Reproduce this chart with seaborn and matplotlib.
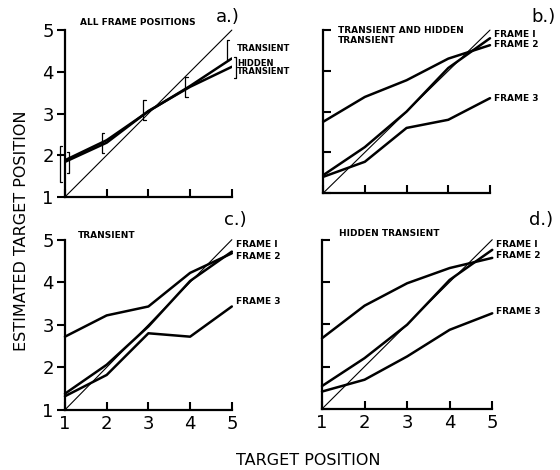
"""
Estimated vs. actual target position, four panels (a-d).
"""
import numpy as np
import pandas as pd
import matplotlib
matplotlib.use("Agg")
import matplotlib.pyplot as plt
import seaborn as sns

positions = [1, 2, 3, 4, 5]
tick_labels = ["1", "2", "3", "4", "5"]

# panel a: all frame positions
a_transient = [1.88, 2.36, 3.05, 3.66, 4.32]
a_hidden = [1.84, 2.30, 3.06, 3.64, 4.12]
a_transient_lo = [1.36, 2.05, 2.84, 3.40, 4.28]
a_transient_hi = [2.22, 2.53, 3.32, 3.87, 4.76]
a_hidden_lo = [1.57, np.nan, np.nan, np.nan, 3.85]
a_hidden_hi = [2.08, np.nan, np.nan, np.nan, 4.35]

# panel b: transient and hidden transient
b_frame1 = [1.44, 2.13, 3.00, 4.07, 4.80]
b_frame2 = [2.75, 3.36, 3.77, 4.30, 4.63]
b_frame3 = [1.40, 1.77, 2.60, 2.80, 3.33]

# panel c: transient
c_frame1 = [1.38, 2.06, 2.96, 4.03, 4.72]
c_frame2 = [2.72, 3.22, 3.43, 4.22, 4.68]
c_frame3 = [1.32, 1.82, 2.80, 2.72, 3.43]

# panel d: hidden transient
d_frame1 = [1.54, 2.20, 2.99, 4.05, 4.76]
d_frame2 = [2.67, 3.44, 3.97, 4.33, 4.57]
d_frame3 = [1.41, 1.69, 2.24, 2.87, 3.26]

frame_names = ["FRAME 1", "FRAME 2", "FRAME 3"]

sns.set_style("ticks")
plt.rcParams["font.family"] = ["DejaVu Sans"]
plt.rcParams["text.color"] = "black"

fig = plt.figure(figsize=(5.6, 4.7), dpi=100)

ax_a = fig.add_axes([0.116, 0.581, 0.298, 0.355])
ax_b = fig.add_axes([0.577, 0.589, 0.298, 0.347])
ax_c = fig.add_axes([0.116, 0.128, 0.298, 0.362])
ax_d = fig.add_axes([0.575, 0.130, 0.304, 0.360])


def style_axes(ax, left_labels, bottom_labels):
    ax.set_xlim(1, 5)
    ax.set_ylim(1, 5)
    sns.despine(ax=ax)
    for side in ["left", "bottom"]:
        ax.spines[side].set_linewidth(1.6)
        ax.spines[side].set_color("black")
    ax.set_xticks(positions)
    ax.set_yticks(positions)
    ax.tick_params(axis="x", direction="in", length=6, width=1.5, pad=4,
                   labelsize=13, colors="black")
    ax.tick_params(axis="y", direction="out" if left_labels else "in",
                   length=6, width=1.5, pad=2, labelsize=13, colors="black")
    ax.set_xticklabels(tick_labels if bottom_labels else [])
    ax.set_yticklabels(tick_labels if left_labels else [])
    ax.set_xlabel("")
    ax.set_ylabel("")
    # identity line
    ax.plot(positions, positions, color="black", lw=0.8, clip_on=False)


def draw_frames(ax, f1, f2, f3, label_ys):
    df = pd.DataFrame({
        "target": positions * 3,
        "estimate": f1 + f2 + f3,
        "frame": [n for n in frame_names for _ in positions],
    })
    sns.lineplot(data=df, x="target", y="estimate", hue="frame",
                 palette=["black"] * 3, linewidth=1.8, legend=False,
                 ax=ax, clip_on=False)
    for name, yv in zip(frame_names, label_ys):
        ax.text(5.1, yv, name.replace("1", "I"), fontsize=6.5,
                fontweight="bold", va="center", ha="left")


def bracket(ax, x, lo, hi, dx, cap):
    for xi, l, h in zip(x, lo, hi):
        if np.isnan(l):
            continue
        xs = xi + dx
        ax.plot([xs + cap, xs, xs, xs + cap], [h, h, l, l],
                color="black", lw=0.9, clip_on=False)


# panel a
df_a = pd.DataFrame({
    "target": positions * 2,
    "estimate": a_transient + a_hidden,
    "cond": ["TRANSIENT"] * 5 + ["HIDDEN TRANSIENT"] * 5,
})
sns.lineplot(data=df_a, x="target", y="estimate", hue="cond",
             palette=["black", "black"], linewidth=1.8, legend=False, ax=ax_a)
bracket(ax_a, positions, a_transient_lo, a_transient_hi, -0.12, 0.06)
bracket(ax_a, positions, a_hidden_lo, a_hidden_hi, 0.1, -0.05)
ax_a.text(5.12, 4.55, "TRANSIENT", fontsize=6, fontweight="bold", va="center")
ax_a.text(5.12, 4.1, "HIDDEN\nTRANSIENT", fontsize=6, fontweight="bold",
          va="center", linespacing=0.9)

draw_frames(ax_b, b_frame1, b_frame2, b_frame3, [4.9, 4.65, 3.33])
draw_frames(ax_c, c_frame1, c_frame2, c_frame3, [4.88, 4.6, 3.55])
draw_frames(ax_d, d_frame1, d_frame2, d_frame3, [4.88, 4.62, 3.3])

style_axes(ax_a, True, False)
style_axes(ax_b, False, False)
style_axes(ax_c, True, True)
style_axes(ax_d, False, True)

# panel titles
ax_a.text(1.35, 5.08, "ALL FRAME POSITIONS", fontsize=6.5, fontweight="bold",
          va="bottom")
ax_b.text(1.35, 5.1, "TRANSIENT AND HIDDEN\nTRANSIENT", fontsize=6.5,
          fontweight="bold", va="top", linespacing=1.1)
ax_c.text(1.3, 5.0, "TRANSIENT", fontsize=6.5, fontweight="bold", va="bottom")
ax_d.text(1.4, 5.05, "HIDDEN TRANSIENT", fontsize=6.5, fontweight="bold",
          va="bottom")

fig.text(0.407, 0.964, "a.)", fontsize=13, ha="center", va="center")
fig.text(0.970, 0.964, "b.)", fontsize=13, ha="center", va="center")
fig.text(0.421, 0.532, "c.)", fontsize=13, ha="center", va="center")
fig.text(0.966, 0.532, "d.)", fontsize=13, ha="center", va="center")

fig.text(0.038, 0.51, "ESTIMATED TARGET POSITION", fontsize=11.5,
         rotation=90, ha="center", va="center")
fig.text(0.55, 0.021, "TARGET POSITION", fontsize=11.5, ha="center",
         va="center")

fig.savefig("out.png", dpi=100)
